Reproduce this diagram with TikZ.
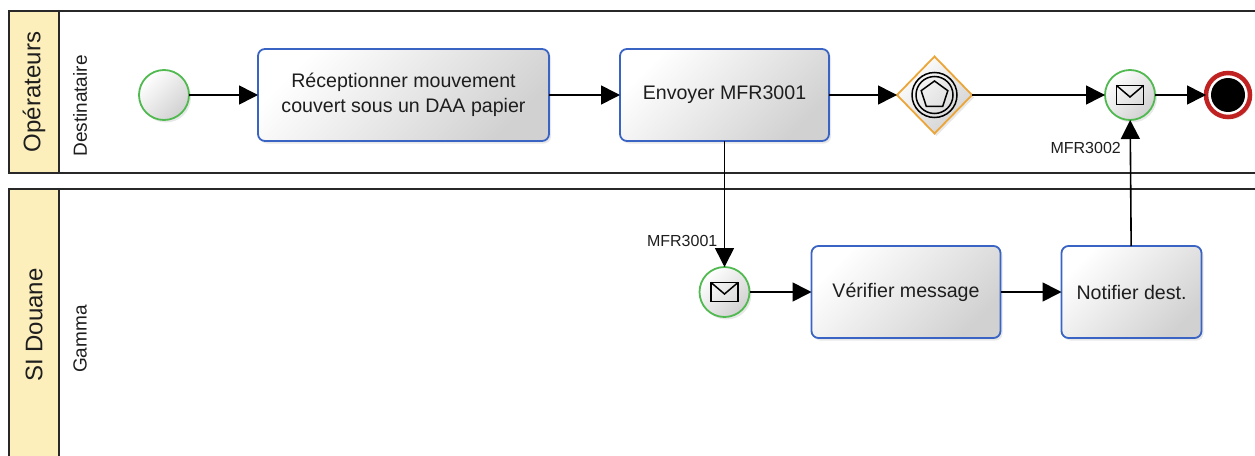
\documentclass[tikz,border=0pt]{standalone}
\usepackage{fontspec}
\setmainfont{Liberation Sans}
\usepackage{tikz}
\usetikzlibrary{shapes.geometric,arrows.meta,positioning,shadows}
\definecolor{headyellow}{RGB}{252,239,188}
\definecolor{taskblue}{RGB}{58,100,196}
\definecolor{evgreen}{RGB}{80,186,80}
\definecolor{gworange}{RGB}{236,166,56}
\definecolor{endred}{RGB}{192,34,34}
\definecolor{textgray}{RGB}{30,30,30}
\definecolor{linegray}{RGB}{40,40,40}
\tikzstyle{pool} = [draw=linegray, line width=1.5pt]
\tikzstyle{poolname} = [rotate=90, text=textgray, font=\fontsize{24}{28}\selectfont, inner sep=0pt]
\tikzstyle{lanename} = [rotate=90, text=textgray, font=\fontsize{19}{22}\selectfont, inner sep=0pt]
\tikzstyle{task} = [rectangle, rounded corners=7pt, draw=taskblue, line width=1.8pt, top color=white, bottom color=black!18, shading angle=45, minimum height=92pt, inner sep=0pt, outer sep=0pt, align=center, text=textgray, font=\fontsize{19.6}{25}\selectfont, drop shadow={shadow xshift=2pt, shadow yshift=-2.5pt, opacity=0.18}]
\tikzstyle{event} = [circle, draw=evgreen, line width=1.8pt, top color=white, bottom color=black!18, shading angle=45, minimum size=50pt, inner sep=0pt, outer sep=0pt, drop shadow={shadow xshift=2pt, shadow yshift=-2.5pt, opacity=0.18}]
\tikzstyle{endev} = [circle, draw=endred, line width=4.5pt, fill=white, minimum size=44pt, inner sep=0pt, outer sep=0pt, drop shadow={shadow xshift=2pt, shadow yshift=-2.5pt, opacity=0.18}]
\tikzstyle{gateway} = [diamond, draw=gworange, line width=1.8pt, top color=white, bottom color=black!18, shading angle=45, minimum width=75pt, minimum height=77pt, inner sep=0pt, outer sep=0pt, drop shadow={shadow xshift=2pt, shadow yshift=-2.5pt, opacity=0.18}]
\tikzstyle{flowlabel} = [text=textgray, font=\fontsize{16}{18}\selectfont, inner sep=0pt]
\tikzstyle{tedge} = [draw=black, line width=1.6pt, -{Triangle[length=19pt, width=19pt]}]
\newcommand{\mailicon}[1]{%
  \draw[line width=1.5pt] ([shift={(-13.5,-9.5)}]#1.center) rectangle ([shift={(13.5,9.5)}]#1.center);
  \draw[line width=1.5pt] ([shift={(-13.5,-9.5)}]#1.center) -- ([shift={(0,2)}]#1.center) -- ([shift={(13.5,-9.5)}]#1.center);
}

\begin{document}
\begin{tikzpicture}[x=1pt, y=-1pt]
\clip (0,0) rectangle (1255,455);

% pools ==================================
\draw[pool, fill=white] (9,11) rectangle (1270,173);
\draw[pool, fill=headyellow] (9,11) rectangle (59,173);
\draw[pool, fill=white] (9,189) rectangle (1270,470);
\draw[pool, fill=headyellow] (9,189) rectangle (59,470);

\node[poolname] (oper) at (34,92) {Opérateurs};
\node[lanename] (dest) at (80,106) {Destinataire};
\node[poolname] (sidouane) at (34,325) {SI Douane};
\node[lanename] (gamma) at (80,339) {Gamma};

% operateurs =============================
\node[event] (start) at (164,95) {};
\node[task, minimum width=291pt, right=69pt of start] (recv) {Réceptionner mouvement\\couvert sous un DAA papier};
\node[task, minimum width=209pt, right=71pt of recv] (send) {Envoyer MFR3001};
\node[gateway, right=68pt of send] (gw) {};
\node[event, right=133pt of gw] (msgA) {};
\node[endev, right=51pt of msgA] (stop) {};

% si douane ==============================
\node[event, below=126pt of send] (msgB) {};
\node[task, minimum width=189pt, right=62pt of msgB] (check) {Vérifier message};
\node[task, minimum width=140pt, right=61pt of check] (notif) {Notifier dest.};

% markers
\draw[line width=1.5pt] (gw) circle (22.5pt);
\draw[line width=1.5pt] (gw) circle (18.5pt);
\node[regular polygon, regular polygon sides=5, draw, line width=1.5pt, minimum size=28pt, inner sep=0pt] (gwmark) at (gw) {};
\fill[black] (stop) circle (17pt);
\mailicon{msgA}
\mailicon{msgB}

% labels
\node[flowlabel, above left=20pt and 7pt of msgB.north] (lbl1) {MFR3001};
\node[flowlabel, below left=22pt and 9pt of msgA.south] (lbl2) {MFR3002};

%edges
\path[tedge] (start) -- (recv);
\path[tedge] (recv) -- (send);
\path[tedge] (send) -- (gw);
\path[tedge] (gw) -- (msgA);
\path[tedge] (msgA) -- (stop);
\path[tedge] (send) -- (msgB);
\path[tedge] (msgB) -- (check);
\path[tedge] (check) -- (notif);
\path[tedge] (notif) -- (msgA);

\end{tikzpicture}
\end{document}
